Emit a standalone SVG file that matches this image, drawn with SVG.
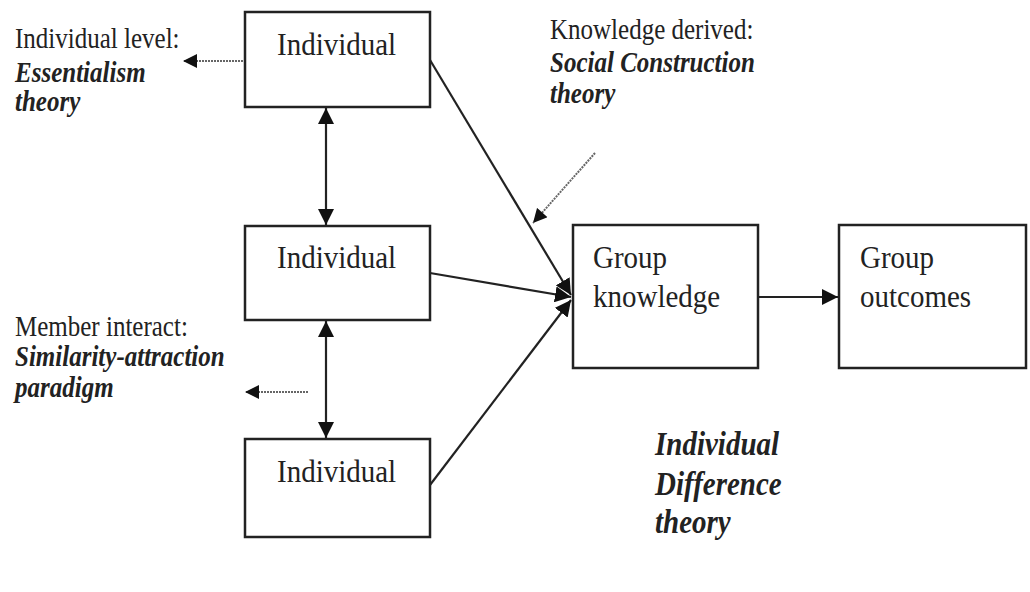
<svg xmlns="http://www.w3.org/2000/svg" width="1030" height="592" viewBox="0 0 1030 592">
<style>
.box{fill:#fff;stroke:#222;stroke-width:2.5}
.bt{font-family:"Liberation Serif",serif;font-size:29px;fill:#222}
.lt{font-family:"Liberation Serif",serif;font-size:25px;fill:#222}
.bi{font-family:"Liberation Serif",serif;font-size:25px;font-weight:bold;font-style:italic;fill:#222}
.big{font-family:"Liberation Serif",serif;font-size:29px;font-weight:bold;font-style:italic;fill:#222}
.ln{stroke:#222;stroke-width:2.2;fill:none}
.dot{stroke:#666;stroke-width:2;stroke-dasharray:2 1;fill:none}
</style>
<defs>
<marker id="ah" viewBox="0 0 10 10" refX="10" refY="5" markerWidth="16" markerHeight="16" markerUnits="userSpaceOnUse" orient="auto-start-reverse"><path d="M0,0 L10,5 L0,10 z" fill="#111"/></marker>
<marker id="ad" viewBox="0 0 10 10" refX="10" refY="5" markerWidth="15" markerHeight="14" markerUnits="userSpaceOnUse" orient="auto"><path d="M0,0 L10,5 L0,10 z" fill="#111"/></marker>
</defs>
<rect width="1030" height="592" fill="#fff"/>
<g id="connectors">
<line class="ln" x1="326" y1="108" x2="326" y2="225" marker-start="url(#ah)" marker-end="url(#ah)"/>
<line class="ln" x1="326" y1="321" x2="326" y2="438" marker-start="url(#ah)" marker-end="url(#ah)"/>
<line class="ln" x1="430" y1="60" x2="571" y2="295" marker-end="url(#ah)"/>
<line class="ln" x1="430" y1="273" x2="571" y2="297" marker-end="url(#ah)"/>
<line class="ln" x1="430" y1="485" x2="571" y2="300" marker-end="url(#ah)"/>
<line class="ln" x1="758" y1="297" x2="838" y2="297" marker-end="url(#ah)"/>
<line class="dot" x1="243" y1="61" x2="183" y2="61" marker-end="url(#ad)"/>
<line class="dot" x1="308" y1="392" x2="245" y2="392" marker-end="url(#ad)"/>
<line class="dot" x1="595" y1="153" x2="533" y2="223" marker-end="url(#ad)"/>
</g>
<g id="ind1"><rect class="box" x="245" y="12" width="185" height="95"/><text class="bt" transform="translate(277,55) scale(1,1.12)">Individual</text></g>
<g id="ind2"><rect class="box" x="245" y="226" width="185" height="94"/><text class="bt" transform="translate(277,268) scale(1,1.12)">Individual</text></g>
<g id="ind3"><rect class="box" x="245" y="439" width="185" height="98"/><text class="bt" transform="translate(277,482) scale(1,1.12)">Individual</text></g>
<g id="gk"><rect class="box" x="573" y="225" width="185" height="143"/><text class="bt" transform="translate(593,268) scale(1,1.12)">Group</text><text class="bt" transform="translate(593,307) scale(1,1.12)">knowledge</text></g>
<g id="go"><rect class="box" x="839" y="225" width="187" height="143"/><text class="bt" transform="translate(860,268) scale(1,1.12)">Group</text><text class="bt" transform="translate(860,307) scale(1,1.12)">outcomes</text></g>
<g id="label-ess">
<text class="lt" transform="translate(15,48) scale(1,1.15)">Individual level:</text>
<text class="bi" transform="translate(15,82) scale(1,1.15)">Essentialism</text>
<text class="bi" transform="translate(15,111) scale(1,1.15)">theory</text>
</g>
<g id="label-soc">
<text class="lt" transform="translate(550,39) scale(1,1.15)">Knowledge derived:</text>
<text class="bi" transform="translate(550,72) scale(1,1.15)">Social Construction</text>
<text class="bi" transform="translate(550,103) scale(1,1.15)">theory</text>
</g>
<g id="label-sim">
<text class="lt" transform="translate(15,336) scale(1,1.15)">Member interact:</text>
<text class="bi" transform="translate(15,366) scale(1,1.15)">Similarity-attraction</text>
<text class="bi" transform="translate(15,397) scale(1,1.15)">paradigm</text>
</g>
<g id="label-idt">
<text class="big" transform="translate(655,455) scale(1,1.15)">Individual</text>
<text class="big" transform="translate(655,495) scale(1,1.15)">Difference</text>
<text class="big" transform="translate(655,533) scale(1,1.15)">theory</text>
</g>
</svg>
